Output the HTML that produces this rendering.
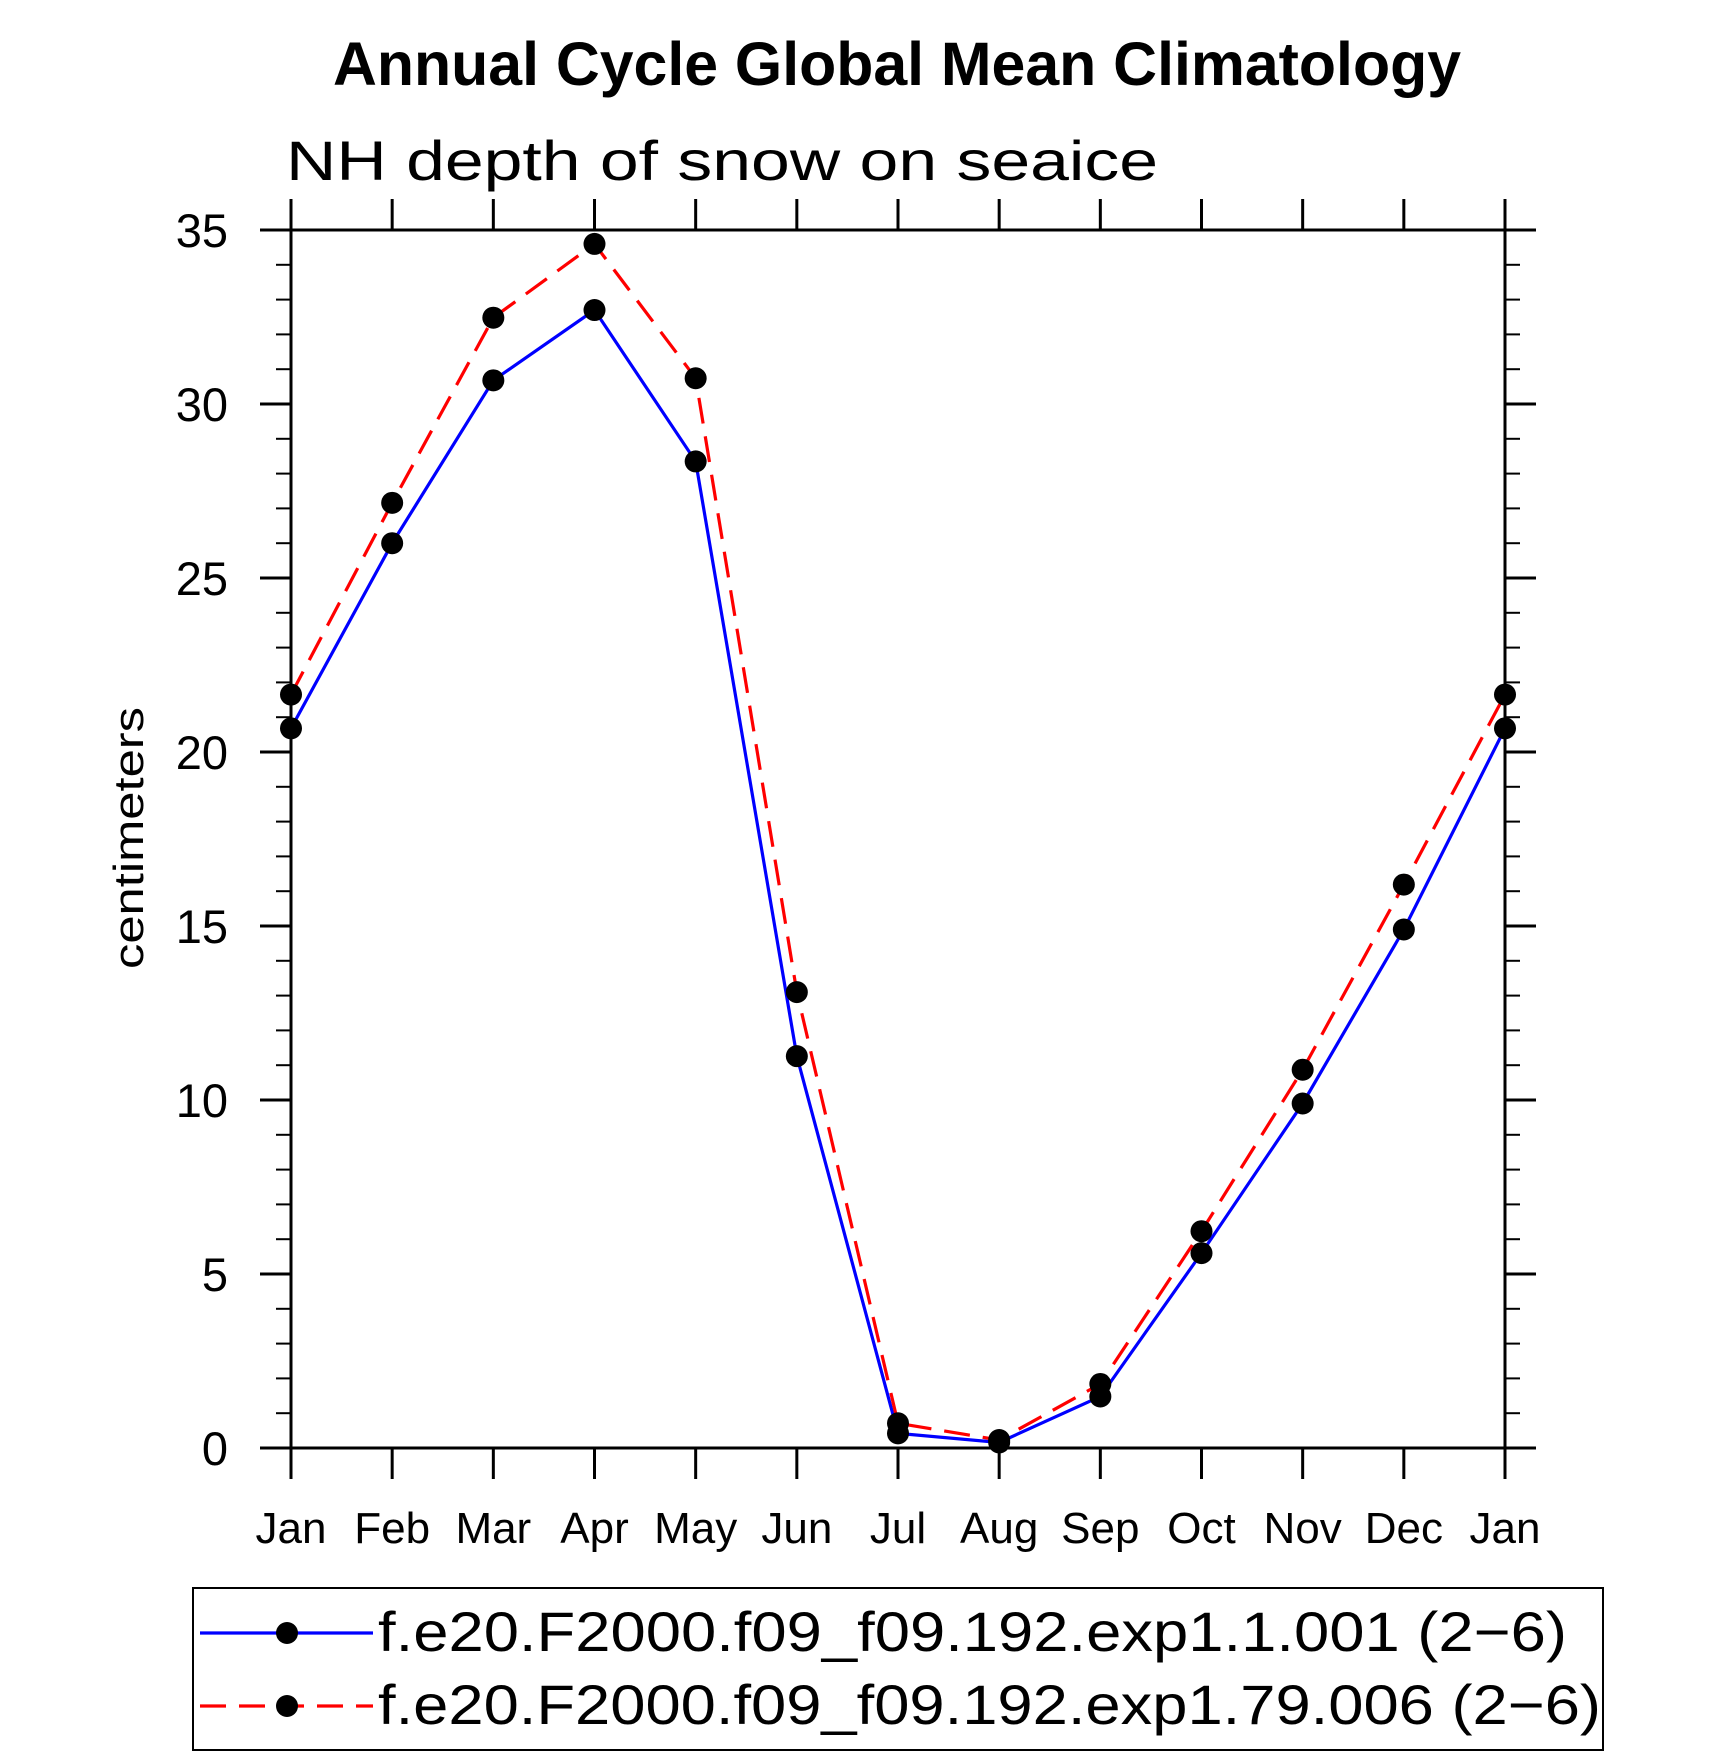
<!DOCTYPE html>
<html><head><meta charset="utf-8"><style>
html,body{margin:0;padding:0;background:#fff;}
svg{display:block;}
text{font-family:"Liberation Sans",sans-serif;fill:#000;}
</style></head><body>
<svg id="chart" width="1710" height="1757" viewBox="0 0 1710 1757" xmlns="http://www.w3.org/2000/svg">
<text x="897" y="85" text-anchor="middle" font-size="61" font-weight="bold" textLength="1128" lengthAdjust="spacingAndGlyphs">Annual Cycle Global Mean Climatology</text>
<text x="286" y="180" font-size="56" font-weight="300" textLength="872" lengthAdjust="spacingAndGlyphs">NH depth of snow on seaice</text>
<text transform="translate(143,838) rotate(-90)" text-anchor="middle" font-size="42" textLength="262" lengthAdjust="spacingAndGlyphs">centimeters</text>
<g id="axes"></g>
<g id="series"></g>
<g id="legend">
<rect x="193" y="1588" width="1410" height="162" fill="none" stroke="#000" stroke-width="2"/>
<g>
<line x1="200" y1="1633" x2="373" y2="1633" stroke="#0000ff" stroke-width="3.2"/>
<circle cx="287" cy="1633" r="11" fill="#000"/>
<text x="378" y="1651" font-size="56" textLength="1189" lengthAdjust="spacingAndGlyphs">f.e20.F2000.f09_f09.192.exp1.1.001 (2−6)</text>
</g>
<g>
<line x1="200" y1="1706" x2="373" y2="1706" stroke="#ff0000" stroke-width="3.2" stroke-dasharray="26,13"/>
<circle cx="287" cy="1706" r="11" fill="#000"/>
<text x="378" y="1724" font-size="56" textLength="1223" lengthAdjust="spacingAndGlyphs">f.e20.F2000.f09_f09.192.exp1.79.006 (2−6)</text>
</g>
</g>
</svg>
<script>
const months = ["Jan","Feb","Mar","Apr","May","Jun","Jul","Aug","Sep","Oct","Nov","Dec","Jan"];
const seriesA = [20.68,26.0,30.68,32.7,28.35,11.26,0.42,0.16,1.48,5.6,9.9,14.9,20.68];
const seriesB = [21.65,27.16,32.48,34.6,30.74,13.1,0.71,0.23,1.84,6.23,10.87,16.19,21.65];
const yTicks = [0,5,10,15,20,25,30,35];

const L=291,R=1505,T=230,B=1448,YMAX=35;
const NS="http://www.w3.org/2000/svg";
function xs(i){return L+(R-L)*i/(months.length-1);}
function ys(v){return B-(B-T)*v/YMAX;}
function mk(tag,attrs,parent){const e=document.createElementNS(NS,tag);for(const k in attrs)e.setAttribute(k,attrs[k]);parent.appendChild(e);return e;}
const axes=document.getElementById('axes');
const frame=mk('rect',{x:L,y:T,width:R-L,height:B-T,fill:'none',stroke:'#000','stroke-width':3},axes);


months.forEach((m,i)=>{
  const x=xs(i);
  const t1=mk('line',{x1:x,y1:B,x2:x,y2:B+31,stroke:'#000','stroke-width':3},axes);
  
  
  const t2=mk('line',{x1:x,y1:T,x2:x,y2:T-31,stroke:'#000','stroke-width':3},axes);
  
  
  const lb=mk('text',{x:x,y:1543,'text-anchor':'middle','font-size':44,'font-weight':300},axes);
  lb.textContent=m;
  
  
});
for(let v=0;v<=YMAX;v++){
  const y=ys(v);const major=v%5===0;const len=major?31:15;
  const a=mk('line',{x1:L-len,y1:y,x2:L,y2:y,stroke:'#000','stroke-width':major?3:2},axes);
  
  
  const b=mk('line',{x1:R,y1:y,x2:R+len,y2:y,stroke:'#000','stroke-width':major?3:2},axes);
  
  
}
yTicks.forEach(v=>{
  const t=mk('text',{x:228,y:ys(v)+17,'text-anchor':'end','font-size':47,'font-weight':300},axes);
  t.textContent=String(v);
  
  
});
const sg=document.getElementById('series');
function drawSeries(vals,color,dash,name){
  const g=mk('g',{},sg);
  
  
  const pts=vals.map((v,i)=>xs(i)+','+ys(v)).join(' ');
  const pl=mk('polyline',{points:pts,fill:'none',stroke:color,'stroke-width':3.2,'stroke-dasharray':dash},g);
  
  
  vals.forEach((v,i)=>{
    const c=mk('circle',{cx:xs(i),cy:ys(v),r:11,fill:'#000'},g);
    
    
  });
}
drawSeries(seriesA,'#0000ff','none','series-exp1-1-001');
drawSeries(seriesB,'#ff0000','26,13','series-exp1-79-006');
</script>
</body></html>
